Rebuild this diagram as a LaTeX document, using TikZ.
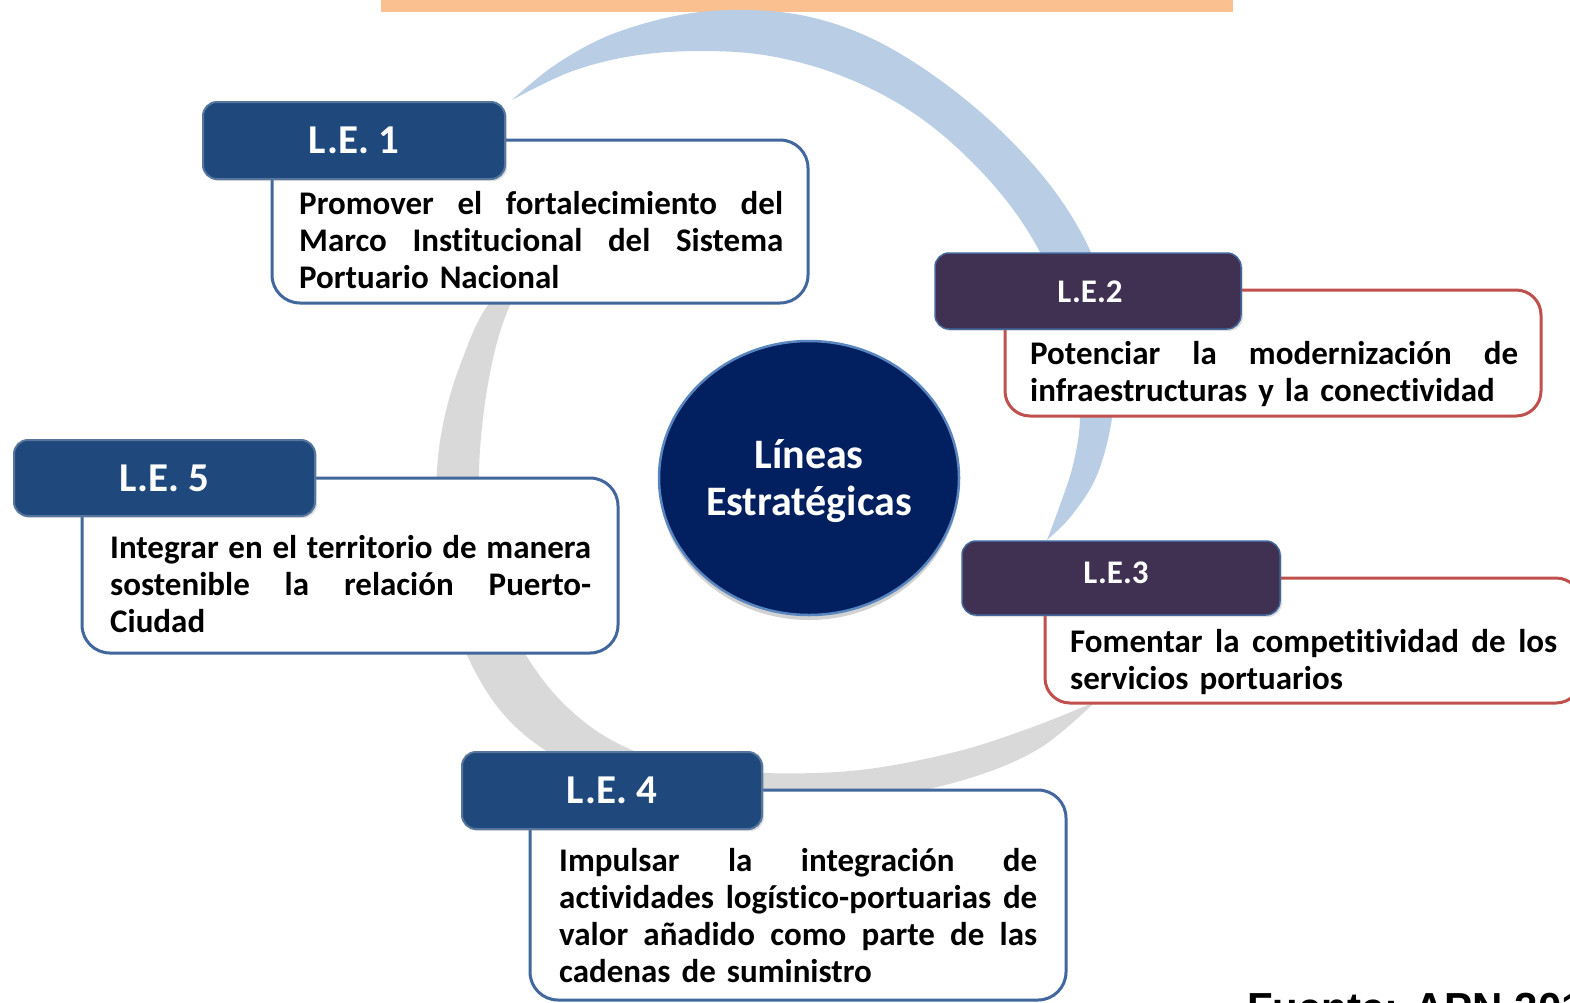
\documentclass[tikz,border=0pt]{standalone}
\usepackage{fontspec}
\setmainfont{Carlito}[RawFeature={-liga;-calt;-dlig}]
\newfontfamily\fuentefont{Liberation Sans}
\usetikzlibrary{shapes.geometric,shadows}
\definecolor{tblue}{HTML}{1F497D}
\definecolor{tpurple}{HTML}{403152}
\definecolor{bblue}{HTML}{41679C}
\definecolor{bred}{HTML}{C0504D}
\definecolor{cnavy}{HTML}{02205F}
\definecolor{cring}{HTML}{5A86C0}
\definecolor{arcblue}{HTML}{B9CDE5}
\definecolor{arcgrey}{HTML}{D9D9D9}
\definecolor{orangebar}{HTML}{FAC090}
\newcommand{\jl}[2]{\leavevmode\hbox to #1{#2}}
\tikzset{
  textbox/.style={rectangle, draw=bblue, line width=3pt, fill=white, rounded corners=28pt, inner sep=0pt},
  redbox/.style={textbox, draw=bred},
  titleblue/.style={rectangle, fill=tblue, draw=tblue!75!white, line width=2pt, rounded corners=14pt, inner sep=0pt,
    drop shadow={opacity=0.25, shadow xshift=2pt, shadow yshift=-2pt}},
  titlepurple/.style={rectangle, fill=tpurple, draw=bblue, line width=1.5pt, rounded corners=14pt, inner sep=0pt,
    drop shadow={opacity=0.25, shadow xshift=2pt, shadow yshift=-2pt}},
  bodytext/.style={font=\bfseries\fontsize{33pt}{37pt}\selectfont, text width=#1, align=left, inner sep=0pt, anchor=base west},
  titletext/.style={font=\bfseries\fontsize{41pt}{45pt}\selectfont, text=white, inner sep=0pt},
  titletextsmall/.style={font=\bfseries\fontsize{33pt}{37pt}\selectfont, text=white, inner sep=0pt}
}
\begin{document}
\begin{tikzpicture}[x=1pt,y=-1pt]
\useasboundingbox (0,0) rectangle (1570,1002);
\fill[white] (0,0) rectangle (1570,1002);
% orange bar
\fill[orangebar] (381,0) rectangle (1233,12);
% blue crescent
\fill[arcblue] plot[smooth, tension=0.6] coordinates {(512,100) (555,65) (610,35) (680,15) (745,10) (810,17) (875,40) (940,80) (1000,130) (1050,185) (1085,240) (1106,295) (1115,355) (1112,418) (1097,475) (1072,515) (1047,540)}
  -- plot[smooth, tension=0.6] coordinates {(1047,540) (1060,505) (1073,465) (1080,418) (1076,355) (1058,290) (1022,222) (972,162) (912,112) (842,76) (770,56) (700,51) (632,56) (570,72) (512,100)} -- cycle;
% grey crescent
\fill[arcgrey] plot[smooth, tension=0.6] coordinates {(530,270) (488,305) (462,360) (445,415) (437,470) (438,530) (448,595) (467,655) (500,710) (545,750) (610,782) (690,800) (780,806) (880,798) (970,778) (1040,748) (1095,702)}
  -- plot[smooth, tension=0.6] coordinates {(1095,702) (1030,728) (955,752) (860,770) (763,773) (680,765) (615,742) (565,705) (527,657) (497,600) (482,540) (479,473) (484,410) (495,350) (510,305) (530,270)} -- cycle;
% text boxes
\node[textbox, minimum width=536pt, minimum height=163pt] (t1) at (540,221.5) {};
\node[redbox, minimum width=536pt, minimum height=126pt, rounded corners=25pt] (t2) at (1273,353) {};
\node[redbox, minimum width=536pt, minimum height=125pt, rounded corners=25pt] (t3) at (1313,640.5) {};
\node[textbox, minimum width=536pt, minimum height=210pt] (t4) at (798,895) {};
\node[textbox, minimum width=536pt, minimum height=175pt] (t5) at (350,565.5) {};
% title boxes
\node[titleblue, minimum width=302pt, minimum height=77pt] (h1) at (354,140.5) {};
\node[titlepurple, minimum width=306pt, minimum height=76pt] (h2) at (1088,291) {};
\node[titlepurple, minimum width=318pt, minimum height=74pt] (h3) at (1121,578) {};
\node[titleblue, minimum width=300pt, minimum height=77pt] (h4) at (612,790.5) {};
\node[titleblue, minimum width=301pt, minimum height=76pt] (h5) at (164.5,478) {};
% title texts
\node[titletext] (l1) at (354,140.5) {L.E. 1};
\node[titletextsmall] (l2) at (1090,292) {L.E.2};
\node[titletextsmall] (l3) at (1116,573) {L.E.3};
\node[titletext] (l4) at (612,790.5) {L.E. 4};
\node[titletext] (l5) at (164.5,478) {L.E. 5};
% body texts
\node[bodytext=484pt] (b1) at (299,214) {\jl{484pt}{Promover\hfill el\hfill fortalecimiento\hfill del}\\\jl{484pt}{Marco\hfill Institucional\hfill del\hfill Sistema}\\Portuario Nacional};
\node[bodytext=488pt] (b2) at (1030,364) {\jl{488pt}{Potenciar\hfill la\hfill modernización\hfill de}\\infraestructuras y la conectividad};
\node[bodytext=487pt] (b3) at (1070,652) {\jl{487pt}{Fomentar\hfill la\hfill competitividad\hfill de\hfill los}\\servicios portuarios};
\node[bodytext=478pt] (b4) at (559,871) {\jl{478pt}{Impulsar\hfill la\hfill integración\hfill de}\\\jl{478pt}{actividades\hfill logístico-portuarias\hfill de}\\\jl{478pt}{valor\hfill añadido\hfill como\hfill parte\hfill de\hfill las}\\cadenas de suministro};
\node[bodytext=481pt] (b5) at (110,558) {\jl{481pt}{Integrar\hfill en\hfill el\hfill territorio\hfill de\hfill manera}\\\jl{481pt}{sostenible\hfill la\hfill relación\hfill Puerto-}\\Ciudad};
% center circle
\node[ellipse, fill=cnavy, draw=cring, line width=2.5pt, minimum width=300pt, minimum height=274pt,
  drop shadow={opacity=0.35, shadow xshift=0pt, shadow yshift=-5pt}] (c) at (809,478) {};
\node[font=\bfseries\fontsize{42pt}{47pt}\selectfont, text=white, align=center, inner sep=0pt] (ct) at (809,481) {Líneas\\Estratégicas};
% source
\node[font=\fuentefont\bfseries\fontsize{42pt}{46pt}\selectfont, anchor=base west, inner sep=0pt] (src) at (1247,1022) {Fuente: APN 201};
\end{tikzpicture}
\end{document}
